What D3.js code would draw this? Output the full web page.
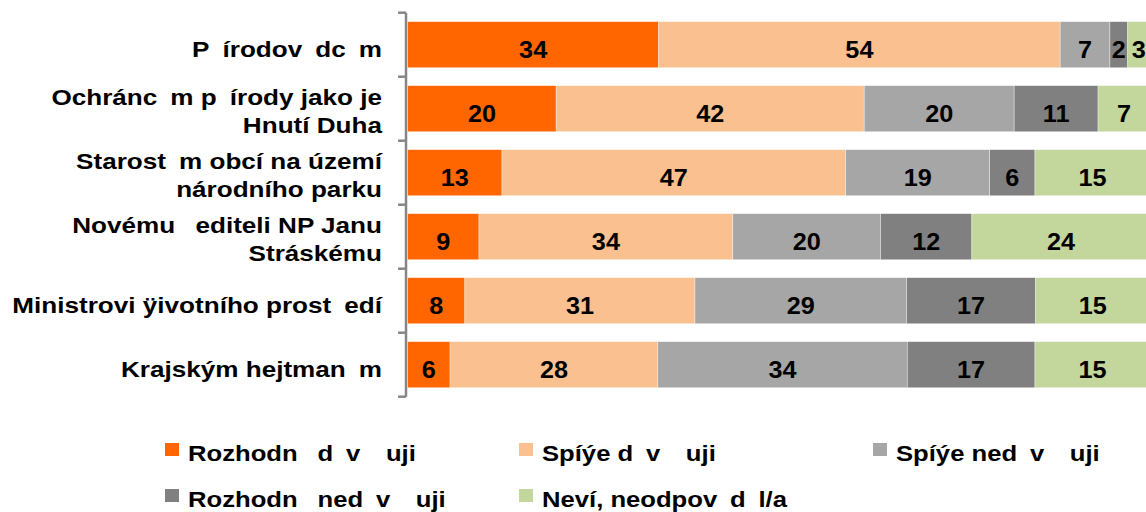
<!DOCTYPE html>
<html>
<head>
<meta charset="utf-8">
<script src="https://cdn.jsdelivr.net/npm/d3@7"></script>
<style>
  body { margin: 0; background: #fff; overflow: hidden; }
  svg { display: block; }
  text { font-family: "Liberation Sans", Arial, sans-serif; font-weight: bold; fill: #000; white-space: pre; }
</style>
</head>
<body>
<svg id="chart" width="1146" height="512"></svg>
<script>
// missing glyphs in the source render as blanks, kept here as en spaces
const E = '\u2002';

const categories = [
  ['P' + E + 'írodov' + E + 'dc' + E + 'm'],
  ['Ochránc' + E + 'm p' + E + 'írody jako je', 'Hnutí Duha'],
  ['Starost' + E + 'm obcí na území', 'národního parku'],
  ['Novému ' + E + 'editeli NP Janu', 'Stráskému'],
  ['Ministrovi ÿivotního prost' + E + 'edí'],
  ['Krajským hejtman' + E + 'm']
];

const seriesNames = [
  'Rozhodn' + E + ' d' + E + 'v' + E + E + 'uji',
  'Spíýe d' + E + 'v' + E + E + 'uji',
  'Spíýe ned' + E + 'v' + E + E + 'uji',
  'Rozhodn' + E + ' ned' + E + 'v' + E + E + 'uji',
  'Neví, neodpov' + E + 'd' + E + 'l/a'
];
const seriesColors = ['#ff6600', '#fac090', '#a6a6a6', '#808080', '#c3d69b'];

// segment widths (percent)
const rozhodneDuveruji = [33.8, 20.0, 12.7, 9.6, 7.7, 5.7];
const spiseDuveruji = [54.1, 41.5, 46.3, 34.2, 31.0, 28.0];
const spiseNeduveruji = [6.7, 20.2, 19.4, 19.9, 28.5, 33.6];
const rozhodneNeduveruji = [2.4, 11.3, 6.1, 12.3, 17.4, 17.2];
const nevi = [3.0, 7.0, 15.5, 24.0, 15.4, 15.5];

// numbers printed in the bars
const rozhodneDuverujiLabels = [34, 20, 13, 9, 8, 6];
const spiseDuverujiLabels = [54, 42, 47, 34, 31, 28];
const spiseNeduverujiLabels = [7, 20, 19, 20, 29, 34];
const rozhodneNeduverujiLabels = [2, 11, 6, 12, 17, 17];
const neviLabels = [3, 7, 15, 24, 15, 15];

const seriesValues = [rozhodneDuveruji, spiseDuveruji, spiseNeduveruji, rozhodneNeduveruji, nevi];
const seriesLabels = [rozhodneDuverujiLabels, spiseDuverujiLabels, spiseNeduverujiLabels, rozhodneNeduverujiLabels, neviLabels];

const table = categories.map((c, i) => {
  const row = { idx: i };
  seriesValues.forEach((vals, s) => { row['s' + s] = vals[i]; });
  return row;
});
const keys = seriesNames.map((d, s) => 's' + s);
const stacked = d3.stack().keys(keys)(table);

const svg = d3.select('#chart');
const SX = 1.16; // source text is slightly stretched horizontally

const y = d3.scaleBand()
  .domain(d3.range(categories.length))
  .range([12.7, 396.7])
  .paddingInner(0.28)
  .paddingOuter(0.14);

const x = d3.scaleLinear().domain([0, 100]).range([407.7, 1150]);

// bars
const layers = svg.append('g').selectAll('g')
  .data(stacked)
  .join('g')
  .attr('fill', (d, s) => seriesColors[s]);

layers.selectAll('rect')
  .data(d => d)
  .join('rect')
  .attr('x', d => x(d[0]))
  .attr('y', d => y(d.data.idx))
  .attr('width', d => x(d[1]) - x(d[0]))
  .attr('height', y.bandwidth())
  .attr('stroke', '#fff')
  .attr('stroke-opacity', 0.6)
  .attr('stroke-width', 0.6);

// value labels
stacked.forEach((layer, s) => {
  svg.append('g').selectAll('text')
    .data(layer)
    .join('text')
    .attr('transform', d => `translate(${(x(d[0]) + x(d[1])) / 2},${y(d.data.idx) + y.bandwidth() / 2 + 13}) scale(1.03,1)`)
    .attr('text-anchor', 'middle')
    .style('font-size', '24.5px')
    .text(d => seriesLabels[s][d.data.idx]);
});

// axis line + boundary ticks
const axisX = 406;
const step = y.step();
const edges = d3.range(categories.length + 1).map(i => y.range()[0] + i * step);
const axis = svg.append('g').attr('stroke', '#868686').attr('stroke-width', 2.5);
axis.append('line')
  .attr('x1', axisX).attr('x2', axisX)
  .attr('y1', edges[0]).attr('y2', edges[edges.length - 1]);
axis.selectAll('.tick')
  .data(edges)
  .join('line')
  .attr('class', 'tick')
  .attr('x1', axisX - 8).attr('x2', axisX)
  .attr('y1', d => d).attr('y2', d => d);

// category labels
const catG = svg.append('g');
categories.forEach((lines, i) => {
  const cy = y(i) + y.bandwidth() / 2;
  const base = lines.length === 1 ? cy + 12 : cy - 4;
  lines.forEach((ln, j) => {
    catG.append('text')
      .attr('transform', `translate(382,${base + j * 28.5}) scale(${SX},1)`)
      .attr('text-anchor', 'end')
      .style('font-size', '22.5px')
      .text(ln);
  });
});

// legend
const legendCols = [165, 519, 873];
const legend = svg.append('g');
seriesNames.forEach((name, s) => {
  const col = s % 3, row = Math.floor(s / 3);
  const lx = legendCols[col];
  const ly = 461 + row * 46;
  legend.append('rect')
    .attr('x', lx).attr('y', ly - 18)
    .attr('width', 14).attr('height', 13)
    .attr('fill', seriesColors[s]);
  legend.append('text')
    .attr('transform', `translate(${lx + 23},${ly}) scale(1.14,1)`)
    .style('font-size', '22.5px')
    .text(name);
});
</script>
</body>
</html>
